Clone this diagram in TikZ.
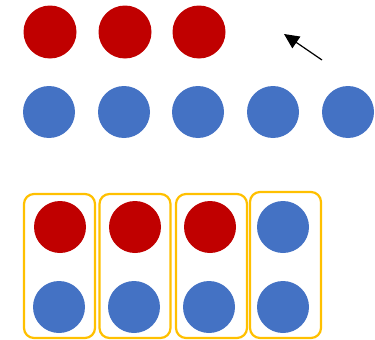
\documentclass[tikz,border=0pt]{standalone}
\usetikzlibrary{arrows.meta}
\definecolor{dred}{HTML}{C00000}
\definecolor{dblue}{HTML}{4472C4}
\definecolor{gold}{HTML}{FFC000}
\begin{document}
\begin{tikzpicture}[x=1pt,y=-1pt,
  redball/.style={circle,fill=dred,minimum size=53pt,inner sep=0pt},
  blueball/.style={circle,fill=dblue,minimum size=52pt,inner sep=0pt},
  pairbox/.style={draw=gold,line width=2.2pt,rounded corners=10pt,minimum width=71pt,minimum height=144pt,inner sep=0pt},
  pointer/.style={line width=1.2pt,-{Triangle[length=15pt,width=14pt]}}]
\useasboundingbox (0,0) rectangle (375,340);
% top rows
\node[redball] (r1) at (50,32) {};
\node[redball] (r2) at (125,32) {};
\node[redball] (r3) at (199,32) {};
\node[blueball] (b1) at (49,112) {};
\node[blueball] (b2) at (124,112) {};
\node[blueball] (b3) at (198,112) {};
\node[blueball] (b4) at (273,112) {};
\node[blueball] (b5) at (348,112) {};
% arrow
\coordinate (atail) at (322,60);
\coordinate (ahead) at (284,34);
\draw[pointer] (atail) -- (ahead);
% bottom boxes
\node[pairbox] (p1) at (59.5,266) {};
\node[pairbox] (p2) at (135,266) {};
\node[pairbox] (p3) at (211.5,266) {};
\node[pairbox,minimum height=146pt] (p4) at (285.5,265) {};
\node[redball,minimum size=52pt] (pr1) at (60,227) {};
\node[redball,minimum size=52pt] (pr2) at (135,227) {};
\node[redball,minimum size=52pt] (pr3) at (210,227) {};
\node[blueball] (pb4) at (283,227) {};
\node[blueball] (pq1) at (59,307) {};
\node[blueball] (pq2) at (134,307) {};
\node[blueball] (pq3) at (209,307) {};
\node[blueball] (pq4) at (283,307) {};
\end{tikzpicture}
\end{document}
